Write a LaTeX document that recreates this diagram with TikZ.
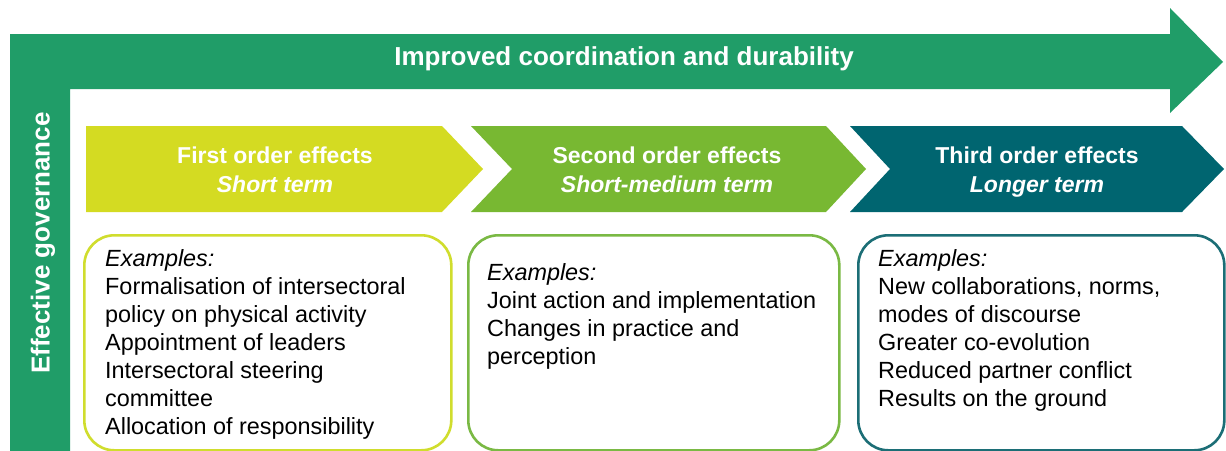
\documentclass[tikz,border=0pt]{standalone}
\usepackage{fontspec}
\setmainfont{Liberation Sans}
\definecolor{lgreen}{RGB}{32,157,104}
\definecolor{cyel}{RGB}{212,219,34}
\definecolor{cgrn}{RGB}{120,184,50}
\definecolor{cteal}{RGB}{0,101,112}
\definecolor{byel}{RGB}{208,221,45}
\definecolor{bgrn}{RGB}{122,185,68}
\definecolor{bteal}{RGB}{28,110,118}
\tikzset{
  headtxt/.style={text=white, font=\fontsize{23}{29}\selectfont\bfseries, align=center, inner sep=0pt, anchor=north},
  bigtxt/.style={text=white, font=\fontsize{26}{30}\selectfont\bfseries, inner sep=0pt, anchor=base},
  exbox/.style={draw, line width=2.6pt, rounded corners=30pt, fill=white, anchor=north west, inner sep=0pt},
  extxt/.style={font=\fontsize{23.4}{28}\selectfont, align=left, inner sep=0pt, anchor=north west, text=black}
}
\begin{document}
\begin{tikzpicture}[x=1pt,y=-1pt]
\useasboundingbox (0,0) rectangle (1226,450);
\clip (0,0) rectangle (1226,450);
\fill[white] (0,0) rectangle (1226,450);
% L-shaped arrow
\fill[lgreen] (10,34) -- (1170,34) -- (1170,8) -- (1223,62) -- (1170,113) -- (1170,89)
  -- (70,89) -- (70,460) -- (10,460) -- cycle;
\node[bigtxt] (title) at (624,65.5) {Improved coordination and durability};
\node[bigtxt, rotate=90] (gov) at (49.5,243) {Effective governance};
% chevrons
\fill[cyel] (86,126) -- (442,126) -- (483,169) -- (442,212) -- (86,212) -- cycle;
\fill[cgrn] (471,126) -- (826,126) -- (866,169) -- (826,212) -- (471,212) -- (512,169) -- cycle;
\fill[cteal] (850,126) -- (1182,126) -- (1224,169) -- (1182,212) -- (850,212) -- (890,169) -- cycle;
\node[headtxt] (h1) at (275,146.5) {First order effects\\\textit{Short term}};
\node[headtxt] (h2) at (667,146.5) {Second order effects\\\textit{Short-medium term}};
\node[headtxt] (h3) at (1037,146.5) {Third order effects\\\textit{Longer term}};
% example boxes
\node[exbox, draw=byel, minimum width=367pt, minimum height=215pt] (b1) at (83,234) {};
\node[exbox, draw=bgrn, minimum width=371pt, minimum height=215pt] (b2) at (467,234) {};
\node[exbox, draw=bteal, minimum width=366pt, minimum height=215pt] (b3) at (857,234) {};
\node[extxt] (t1) at (105,249.5) {\textit{Examples:}\\Formalisation of intersectoral\\policy on physical activity\\Appointment of leaders\\Intersectoral steering\\committee\\Allocation of responsibility};
\node[extxt] (t2) at (487,263.5) {\textit{Examples:}\\Joint action and implementation\\Changes in practice and\\perception};
\node[extxt] (t3) at (878,249.5) {\textit{Examples:}\\New collaborations, norms,\\modes of discourse\\Greater co-evolution\\Reduced partner conflict\\Results on the ground};
\end{tikzpicture}
\end{document}
